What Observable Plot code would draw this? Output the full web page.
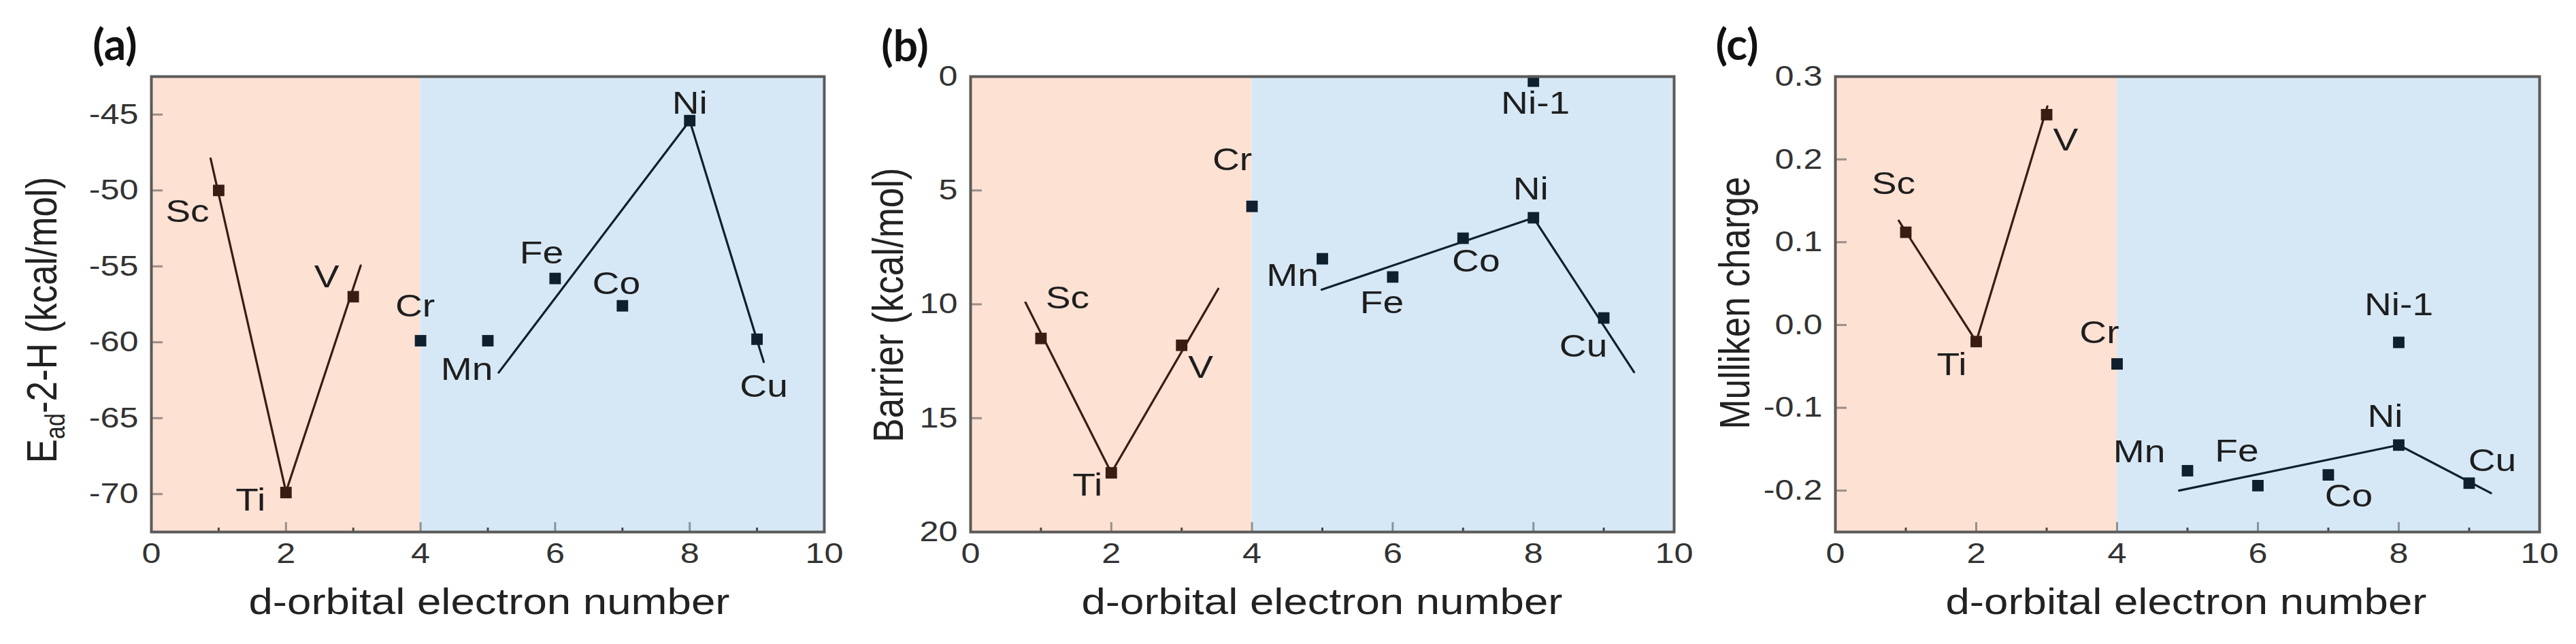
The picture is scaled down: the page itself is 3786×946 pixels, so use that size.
<!DOCTYPE html>
<html><head><meta charset="utf-8">
<script src="https://cdn.jsdelivr.net/npm/d3@7"></script>
<script src="https://cdn.jsdelivr.net/npm/@observablehq/plot@0.6"></script>
<style>
html,body{margin:0;padding:0;background:#fff;}
#wrap{position:relative;width:3786px;height:946px;overflow:hidden;background:#fff;}
#wrap svg{position:absolute;top:0;overflow:visible;}
</style></head><body><div id="wrap"></div>
<script>
// ---------- data ----------
const dNumber = [1, 2, 3, 4, 5, 6, 7, 8, 9];
const elements = ["Sc", "Ti", "V", "Cr", "Mn", "Fe", "Co", "Ni", "Cu"];
const energyA = [-50.0, -69.9, -57.0, -59.9, -59.9, -55.8, -57.6, -45.4, -59.8];
const barrierB = [11.5, 17.4, 11.8, 5.7, 8.0, 8.8, 7.1, 6.2, 10.6];
const chargeC = [0.112, -0.020, 0.254, -0.047, -0.176, -0.194, -0.181, -0.145, -0.191];
const extraName = "Ni-1";
const extraX = 8;
const extraBarrier = 0.2;
const extraCharge = -0.021;

// fitted trend lines (left branch Sc-Ti-V, right branch Mn..Ni-Cu)
const fitAleftX = [0.88, 2, 3.11],  fitAleftY = [-47.9, -69.85, -54.95];
const fitArightX = [5.16, 8, 9.1],  fitArightY = [-62.0, -45.4, -61.3];
const fitBleftX = [0.78, 2, 3.52],  fitBleftY = [9.92, 17.4, 9.32];
const fitBrightX = [4.99, 8, 9.43], fitBrightY = [9.36, 6.2, 12.98];
const fitCleftX = [0.9, 2, 3.01],   fitCleftY = [0.126, -0.02, 0.264];
const fitCrightX = [4.88, 8, 9.31], fitCrightY = [-0.2, -0.145, -0.203];

// regions
const regionStart = [0, 4];
const regionEnd = [4, 10];

// ticks
const xTicks = [0, 2, 4, 6, 8, 10];
const xMinorTicks = [1, 3, 5, 7, 9];
const yTicksA = [-70, -65, -60, -55, -50, -45];
const yTicksB = [0, 5, 10, 15, 20];
const yTicksC = [-0.2, -0.1, 0.0, 0.1, 0.2, 0.3];

// ---------- styles / layout ----------
const regionFill = ["#fde1d3", "#d6e8f6"];
const lineColor = ["#3a1c12", "#0f1f2d"];
const FONT = "'Liberation Sans', Arial, Helvetica, sans-serif";
const STRETCH = 1.2;
const H = 946, MT = 112, MB = 165;

// label offsets (px) for each element label in each panel
const offA = [[-46,32],[-52,12],[-39,-29],[-8,-50],[-31,43],[-20,-37],[-9,-32],[0,-25],[10,70]];
const offB = [[39,-59],[-35,19],[28,33],[-29,-68],[-44,25],[-16,38],[19,34],[-4,-42],[-30,42]];
const offC = [[-18,-71],[-36,35],[28,38],[-26,-45],[-71,-27],[-31,-50],[30,32],[-20,-42],[34,-32]];

const wrap = document.getElementById("wrap");

function hyphenFmt(dec) {
  return d => (d < 0 ? "-" : "") + (dec ? Math.abs(d).toFixed(dec) : String(Math.abs(d)));
}

function makePanel(cfg) {
  const {left, width, ml, mr, yDomain, yReverse, yTicks, yFmt, values, extraY, extraOff,
         fits, offs, letter, letterX, letterY, yLabelX, yLabelY, yLabel, xLabelX} = cfg;
  const plotW = width - ml - mr, plotH = H - MT - MB;
  const pxX = plotW / 10;
  const pxY = plotH / Math.abs(yDomain[1] - yDomain[0]);
  const yBottom = yReverse ? yDomain[1] : yDomain[0];
  const inward = yReverse ? -1 : 1;

  const pts = dNumber.map((x, i) => ({x, y: values[i], name: elements[i], off: offs[i]}));
  if (extraY != null) pts.push({x: extraX, y: extraY, name: extraName, off: extraOff});

  const regions = regionStart.map((s, i) => ({x1: s, x2: regionEnd[i]}));
  const fitL = fits[0][0].map((x, i) => ({x, y: fits[0][1][i]}));
  const fitR = fits[1][0].map((x, i) => ({x, y: fits[1][1][i]}));

  const marks = [
    Plot.rect(regions, {x1: "x1", x2: "x2", y1: () => yDomain[0], y2: () => yDomain[1],
      fill: (d, i) => regionFill[i]}),
    // inward major ticks on x
    Plot.ruleX(xTicks.slice(1, -1), {x: d => d, y1: () => yBottom, y2: () => yBottom + inward * 14 / pxY,
      stroke: "#4a4a4a", strokeOpacity: 0.55, strokeWidth: 3}),
    // minor ticks on x
    Plot.ruleX(xMinorTicks, {x: d => d, y1: () => yBottom, y2: () => yBottom + inward * 6 / pxY,
      stroke: "#222", strokeOpacity: 0.8, strokeWidth: 3}),
    // inward ticks on y
    Plot.ruleY(yTicks, {y: d => d, x1: 0, x2: 17 / pxX, stroke: "#4a4a4a", strokeOpacity: 0.55, strokeWidth: 3}),
    Plot.axisX({ticks: xTicks, tickSize: 0, tickPadding: 16, tickFormat: d => String(d), label: null,
      fontSize: 42, fill: "#333"}),
    Plot.axisY({ticks: yTicks, tickSize: 0, tickPadding: 19, tickFormat: yFmt, label: null,
      fontSize: 42, fill: "#333"}),
    Plot.line(fitL, {x: "x", y: "y", stroke: lineColor[0], strokeWidth: 3.2}),
    Plot.line(fitR, {x: "x", y: "y", stroke: lineColor[1], strokeWidth: 3.2}),
    Plot.dot(pts, {x: "x", y: "y", symbol: "square", r: 9.5,
      fill: d => d.x < 4 ? lineColor[0] : lineColor[1]}),
    ...pts.map(p => Plot.text([p], {x: "x", y: "y", text: "name", dx: p.off[0], dy: p.off[1],
      fontSize: 46, fill: "#1e1e1e"})),
    Plot.frame({stroke: "#5a5a5a", strokeWidth: 4})
  ];

  const svg = Plot.plot({
    width, height: H,
    marginLeft: ml, marginRight: mr, marginTop: MT, marginBottom: MB,
    x: {domain: [0, 10]},
    y: {domain: yDomain, reverse: yReverse},
    style: {fontFamily: FONT, background: "transparent", color: "#333", overflow: "visible"},
    marks
  });
  svg.style.left = left + "px";
  wrap.appendChild(svg);

  const s = d3.select(svg);
  // panel letter
  s.append("text").attr("class", "nostretch")
    .attr("x", letterX).attr("y", letterY)
    .attr("text-anchor", "middle")
    .attr("font-family", "Lato, 'Open Sans', sans-serif").attr("font-weight", 700)
    .attr("font-size", 64).attr("fill", "#111").text(letter);
  // x label
  s.append("text")
    .attr("x", xLabelX).attr("y", 902)
    .attr("text-anchor", "middle").attr("font-family", FONT)
    .attr("font-size", 53).attr("fill", "#222").text("d-orbital electron number");
  // y label (rotated, glyphs widened horizontally like the source)
  const yl = s.append("text").attr("class", "nostretch")
    .attr("transform", `translate(${yLabelX},${yLabelY}) scale(${STRETCH},1) rotate(-90)`)
    .attr("text-anchor", "middle").attr("dy", "0.26em")
    .attr("font-family", FONT).attr("font-size", 53).attr("fill", "#222");
  yLabel(yl);

  // widen horizontal texts like the source figure
  svg.querySelectorAll("text").forEach(t => {
    if (t.classList.contains("nostretch")) return;
    const L = t.getComputedTextLength();
    if (L > 0) {
      t.setAttribute("textLength", (L * STRETCH).toFixed(1));
      t.setAttribute("lengthAdjust", "spacingAndGlyphs");
    }
  });
}

makePanel({
  left: 0, width: 1262, ml: 222, mr: 51,
  yDomain: [-72.5, -42.5], yReverse: false, yTicks: yTicksA, yFmt: hyphenFmt(0),
  values: energyA, extraY: null, extraOff: null,
  fits: [[fitAleftX, fitAleftY], [fitArightX, fitArightY]], offs: offA,
  letter: "(a)", letterX: 169, letterY: 88,
  yLabelX: 66, yLabelY: 470, xLabelX: 719,
  yLabel: t => {
    t.append("tspan").text("E");
    t.append("tspan").attr("font-size", 34).attr("dy", 10).text("ad");
    t.append("tspan").attr("dy", -10).text("-2-H (kcal/mol)");
  }
});

makePanel({
  left: 1262, width: 1262, ml: 164, mr: 64,
  yDomain: [0, 20], yReverse: true, yTicks: yTicksB, yFmt: hyphenFmt(0),
  values: barrierB, extraY: extraBarrier, extraOff: [3, 33],
  fits: [[fitBleftX, fitBleftY], [fitBrightX, fitBrightY]], offs: offB,
  letter: "(b)", letterX: 68, letterY: 90,
  yLabelX: 48, yLabelY: 448, xLabelX: 681,
  yLabel: t => t.text("Barrier (kcal/mol)")
});

makePanel({
  left: 2524, width: 1262, ml: 173, mr: 54,
  yDomain: [-0.25, 0.3], yReverse: false, yTicks: yTicksC, yFmt: hyphenFmt(1),
  values: chargeC, extraY: extraCharge, extraOff: [0, -55],
  fits: [[fitCleftX, fitCleftY], [fitCrightX, fitCrightY]], offs: offC,
  letter: "(c)", letterX: 29, letterY: 88,
  yLabelX: 30, yLabelY: 445, xLabelX: 689,
  yLabel: t => t.text("Mulliken charge")
});
</script>
</body></html>
